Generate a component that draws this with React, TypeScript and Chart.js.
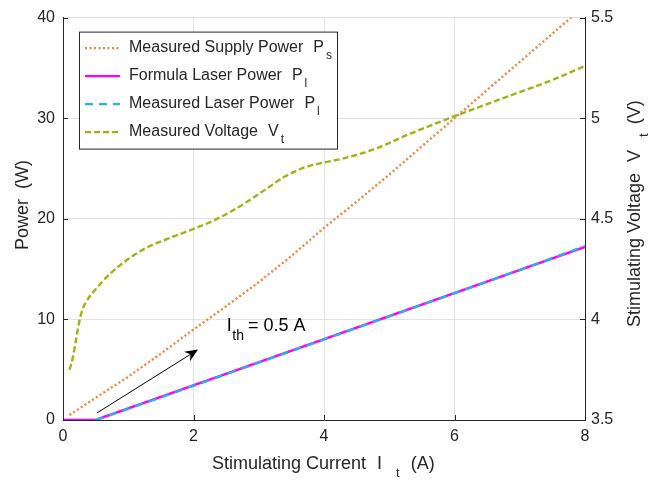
import React, { useEffect, useRef } from "react";
import { Chart, registerables } from "chart.js";

Chart.register(...registerables);

// ---- data ----
const currentSupply = [0.1, 0.5, 1, 1.5, 2, 2.5, 3, 3.5, 4, 4.5, 5, 5.5, 6, 6.5, 7, 7.5, 8];
const supplyPower = [0.5, 2.2, 4.3, 6.6, 9.0, 11.3, 13.7, 16.3, 19.1, 21.7, 24.4, 27.2, 30.0, 32.8, 35.6, 38.4, 41.2];

const currentFormula = [0, 0.5, 8];
const formulaLaserPower = [0, 0, 17.2];

const currentMeasured = [0.5, 1, 2, 3, 4, 5, 6, 7, 8];
const measuredLaserPower = [0, 1.1, 3.4, 5.7, 8.0, 10.3, 12.6, 14.9, 17.3];

const currentVoltage = [0.1, 0.15, 0.2, 0.25, 0.3, 0.4, 0.5, 0.7, 1, 1.3, 1.6, 2, 2.3, 2.7, 3.1, 3.4, 3.7, 4.0, 4.3, 4.8, 5.3, 6, 6.5, 7, 7.5, 8];
const measuredVoltage = [3.75, 3.81, 3.9, 3.99, 4.05, 4.11, 4.15, 4.22, 4.3, 4.36, 4.4, 4.45, 4.49, 4.56, 4.645, 4.71, 4.755, 4.78, 4.80, 4.85, 4.92, 5.01, 5.07, 5.13, 5.19, 5.26];

const xTicks = [0, 2, 4, 6, 8];
const powerTicks = [0, 10, 20, 30, 40];
const voltageTicks = [3.5, 4, 4.5, 5, 5.5];

const legendLabels = ["Measured Supply Power", "Formula Laser Power", "Measured Laser Power", "Measured Voltage"];
const legendSymbols = ["P", "P", "P", "V"];
const legendSubs = ["s", "l", "l", "t"];

const arrowFrom = [0.52, 0.7];
const arrowTo = [2.07, 7.0];
const thresholdLabelAt = [2.51, 8.8];

// ---- styles ----
const FONT = '"Liberation Sans", Arial, Helvetica, sans-serif';
const TEXT = "#262626";
const ORANGE = "#f7823a";
const MAGENTA = "#ff00ff";
const CYAN = "#27b4e4";
const GREEN = "#9db513";
const LW = 2.4;

const styles = [
  { color: ORANGE, dash: [2, 2.5], width: LW },
  { color: MAGENTA, dash: [], width: LW },
  { color: CYAN, dash: [8, 6], width: LW },
  { color: GREEN, dash: [6, 3], width: LW },
];

const pts = (xs: number[], ys: number[]) => xs.map((x, i) => ({ x, y: ys[i] }));

const overlayPlugin = {
  id: "overlay",
  afterDatasetsDraw(chart: any) {
    const { ctx, chartArea, scales } = chart;
    const xs = scales.x;
    const ys = scales.y;
    const y1 = scales.y1;
    ctx.save();

    // inward tick marks
    ctx.strokeStyle = TEXT;
    ctx.lineWidth = 1;
    ctx.setLineDash([]);
    ctx.beginPath();
    xTicks.forEach((v) => {
      const px = Math.round(xs.getPixelForValue(v)) + 0.5;
      ctx.moveTo(px, chartArea.bottom);
      ctx.lineTo(px, chartArea.bottom - 5);
    });
    powerTicks.forEach((v) => {
      const py = Math.round(ys.getPixelForValue(v)) + 0.5;
      ctx.moveTo(chartArea.left, py);
      ctx.lineTo(chartArea.left + 5, py);
    });
    voltageTicks.forEach((v) => {
      const py = Math.round(y1.getPixelForValue(v)) + 0.5;
      ctx.moveTo(chartArea.right, py);
      ctx.lineTo(chartArea.right - 5, py);
    });
    ctx.stroke();

    // arrow
    const ax0 = xs.getPixelForValue(arrowFrom[0]);
    const ay0 = ys.getPixelForValue(arrowFrom[1]);
    const ax1 = xs.getPixelForValue(arrowTo[0]);
    const ay1 = ys.getPixelForValue(arrowTo[1]);
    const ang = Math.atan2(ay1 - ay0, ax1 - ax0);
    ctx.strokeStyle = "#000";
    ctx.fillStyle = "#000";
    ctx.lineWidth = 1;
    ctx.beginPath();
    ctx.moveTo(ax0, ay0);
    ctx.lineTo(ax1 - 6 * Math.cos(ang), ay1 - 6 * Math.sin(ang));
    ctx.stroke();
    const L = 13, W = 5.5, N = 9;
    const ca = Math.cos(ang), sa = Math.sin(ang);
    ctx.beginPath();
    ctx.moveTo(ax1, ay1);
    ctx.lineTo(ax1 - L * ca + W * sa, ay1 - L * sa - W * ca);
    ctx.lineTo(ax1 - N * ca, ay1 - N * sa);
    ctx.lineTo(ax1 - L * ca - W * sa, ay1 - L * sa + W * ca);
    ctx.closePath();
    ctx.fill();

    // threshold label
    ctx.fillStyle = "#000";
    ctx.textBaseline = "alphabetic";
    ctx.textAlign = "left";
    let tx = xs.getPixelForValue(thresholdLabelAt[0]);
    const ty = ys.getPixelForValue(thresholdLabelAt[1]);
    ctx.font = `18px ${FONT}`;
    ctx.fillText("I", tx, ty);
    tx += ctx.measureText("I").width + 0.5;
    ctx.font = `14px ${FONT}`;
    ctx.fillText("th", tx, ty + 9);
    tx += ctx.measureText("th").width + 4;
    ctx.font = `18px ${FONT}`;
    ctx.fillText("= 0.5 A", tx, ty);

    // legend
    const bx = chartArea.left + 16.5;
    const by = chartArea.top + 14.5;
    ctx.fillStyle = "#fff";
    ctx.fillRect(bx, by, 258, 117);
    ctx.strokeStyle = TEXT;
    ctx.lineWidth = 1;
    ctx.strokeRect(bx, by, 258, 117);
    for (let i = 0; i < 4; i++) {
      const base = by + 19.5 + 28 * i;
      const ly = base - 3.5;
      const s = styles[i];
      ctx.strokeStyle = s.color;
      ctx.lineWidth = s.width;
      ctx.setLineDash(s.dash);
      ctx.beginPath();
      ctx.moveTo(bx + 5.5, ly);
      ctx.lineTo(bx + 40.5, ly);
      ctx.stroke();
      ctx.setLineDash([]);
      ctx.fillStyle = TEXT;
      ctx.font = `16px ${FONT}`;
      let lx = bx + 49.5;
      ctx.fillText(legendLabels[i], lx, base);
      lx += ctx.measureText(legendLabels[i]).width + 10;
      ctx.fillText(legendSymbols[i], lx, base);
      lx += ctx.measureText(legendSymbols[i]).width + 2;
      ctx.font = `12px ${FONT}`;
      ctx.fillText(legendSubs[i], lx, base + 7);
    }

    // axis titles
    ctx.fillStyle = TEXT;
    // x title
    const xb = 469;
    let xx = chartArea.left + 149;
    ctx.font = `18px ${FONT}`;
    ctx.fillText("Stimulating Current", xx, xb);
    xx += ctx.measureText("Stimulating Current").width + 11;
    ctx.fillText("I", xx, xb);
    xx += ctx.measureText("I").width + 14;
    ctx.font = `13px ${FONT}`;
    ctx.fillText("t", xx, xb + 8);
    xx += ctx.measureText("t").width + 11;
    ctx.font = `18px ${FONT}`;
    ctx.fillText("(A)", xx, xb);

    // left title
    ctx.save();
    ctx.translate(28, 250);
    ctx.rotate(-Math.PI / 2);
    ctx.font = `18px ${FONT}`;
    ctx.fillText("Power  (W)", 0, 0);
    ctx.restore();

    // right title
    ctx.save();
    ctx.translate(640, 327);
    ctx.rotate(-Math.PI / 2);
    ctx.font = `18px ${FONT}`;
    let rx = 0;
    ctx.fillText("Stimulating Voltage", rx, 0);
    rx += ctx.measureText("Stimulating Voltage").width + 11;
    ctx.fillText("V", rx, 0);
    rx += ctx.measureText("V").width + 13;
    ctx.font = `13px ${FONT}`;
    ctx.fillText("t", rx, 8);
    rx += ctx.measureText("t").width + 9;
    ctx.font = `18px ${FONT}`;
    ctx.fillText("(V)", rx, 0);
    ctx.restore();

    ctx.restore();
  },
};

export default function App() {
  const ref = useRef<HTMLCanvasElement | null>(null);

  useEffect(() => {
    document.body.style.margin = "0";
    const canvas = ref.current;
    if (!canvas) return;
    const tickFont = { family: FONT, size: 16 };
    const chart = new Chart(canvas, {
      type: "scatter",
      data: {
        datasets: [
          {
            label: "Measured Supply Power",
            data: pts(currentSupply, supplyPower),
            yAxisID: "y",
            showLine: true,
            borderColor: ORANGE,
            borderWidth: LW,
            borderDash: [2, 2.5],
            pointRadius: 0,
            order: 2,
          },
          {
            label: "Formula Laser Power",
            data: pts(currentFormula, formulaLaserPower),
            yAxisID: "y",
            showLine: true,
            borderColor: MAGENTA,
            borderWidth: LW,
            pointRadius: 0,
            order: 4,
          },
          {
            label: "Measured Laser Power",
            data: pts(currentMeasured, measuredLaserPower),
            yAxisID: "y",
            showLine: true,
            borderColor: CYAN,
            borderWidth: LW,
            borderDash: [8, 6],
            pointRadius: 0,
            order: 3,
          },
          {
            label: "Measured Voltage",
            data: pts(currentVoltage, measuredVoltage),
            yAxisID: "y1",
            showLine: true,
            borderColor: GREEN,
            borderWidth: LW,
            borderDash: [6, 3],
            pointRadius: 0,
            cubicInterpolationMode: "monotone",
            order: 1,
          },
        ],
      },
      options: {
        responsive: false,
        animation: false,
        devicePixelRatio: 1,
        layout: { padding: { top: 10, left: 0, right: 0, bottom: 0 } },
        plugins: { legend: { display: false }, tooltip: { enabled: false }, title: { display: false } },
        scales: {
          x: {
            type: "linear",
            min: 0,
            max: 8,
            afterBuildTicks: (s: any) => {
              s.ticks = xTicks.map((v) => ({ value: v }));
            },
            afterFit: (s: any) => {
              s.height = 61;
            },
            grid: { color: "#e2e2e2", lineWidth: 1, drawTicks: false },
            border: { display: true, color: TEXT, width: 1 },
            ticks: { font: tickFont, color: TEXT, padding: 7, maxRotation: 0 },
          },
          y: {
            type: "linear",
            position: "left",
            min: 0,
            max: 40,
            afterBuildTicks: (s: any) => {
              s.ticks = powerTicks.map((v) => ({ value: v }));
            },
            afterFit: (s: any) => {
              s.width = 63;
            },
            grid: { color: "#e2e2e2", lineWidth: 1, drawTicks: false },
            border: { display: true, color: TEXT, width: 1 },
            ticks: { font: tickFont, color: TEXT, padding: 8 },
          },
          y1: {
            type: "linear",
            position: "right",
            min: 3.5,
            max: 5.5,
            afterBuildTicks: (s: any) => {
              s.ticks = voltageTicks.map((v) => ({ value: v }));
            },
            afterFit: (s: any) => {
              s.width = 82;
            },
            grid: { drawOnChartArea: false, drawTicks: false },
            border: { display: true, color: TEXT, width: 1 },
            ticks: { font: tickFont, color: TEXT, padding: 6, callback: (v: any) => String(v) },
          },
        },
      },
      plugins: [overlayPlugin],
    });
    return () => chart.destroy();
  }, []);

  return (
    <div style={{ width: 667, height: 481, background: "#fff" }}>
      <canvas ref={ref} width={667} height={481} />
    </div>
  );
}
